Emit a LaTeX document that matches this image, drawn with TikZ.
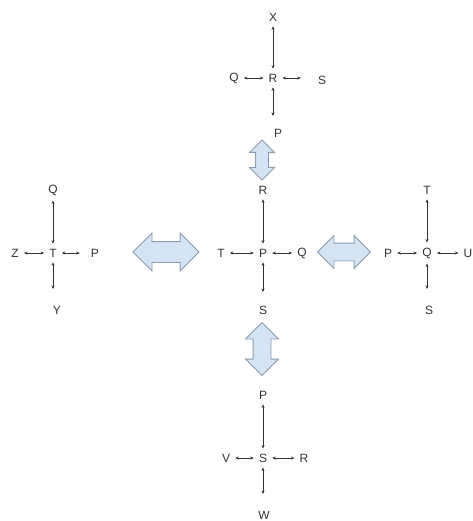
\documentclass[tikz,border=0pt]{standalone}
\usepackage{fontspec}
\setmainfont{Liberation Sans}
\usetikzlibrary{arrows.meta,shapes.arrows}
\definecolor{txt}{HTML}{333333}
\definecolor{bafill}{HTML}{D4E4F4}
\definecolor{badraw}{HTML}{8A9BAD}
\tikzset{
  lbl/.style={font=\fontsize{12}{14}\selectfont, text=txt, inner sep=5pt},
  lnk/.style={draw=txt, line width=0.8pt, {Stealth[length=3.5pt,width=3pt]}-{Stealth[length=3.5pt,width=3pt]}},
  barrow/.style={double arrow, draw=badraw, fill=bafill, line width=0.9pt, inner xsep=0pt}
}
\begin{document}
\begin{tikzpicture}[x=1pt,y=-1pt]
\useasboundingbox (0,0) rectangle (472,521);
% top cluster
\node[lbl] (tX) at (273,17) {X};
\node[lbl] (tR) at (273,78) {R};
\node[lbl] (tQ) at (234,78) {Q};
\node[lbl] (tS) at (322,80) {S};
\node[lbl] (tP) at (278,133) {P};
\coordinate (tD) at (273,116);
\draw[lnk] (tX) -- (tR);
\draw[lnk] (tQ) -- (tR);
\draw[lnk] (tR) -- ([xshift=-12pt]tS.west |- tR);
\draw[lnk] (tR) -- (tD);
% center cluster
\node[lbl] (cR) at (263,190) {R};
\node[lbl] (cP) at (263,253) {P};
\node[lbl] (cT) at (221,253) {T};
\node[lbl] (cQ) at (302,253) {Q};
\node[lbl] (cS) at (263,310) {S};
\coordinate (cD) at (263,292);
\draw[lnk] (cR) -- (cP);
\draw[lnk] (cT) -- (cP);
\draw[lnk] (cP) -- (cQ);
\draw[lnk] (cP) -- (cD);
% left cluster
\node[lbl] (lQ) at (53,190) {Q};
\node[lbl] (lT) at (53,253) {T};
\node[lbl] (lZ) at (15,253) {Z};
\node[lbl] (lP) at (95,253) {P};
\node[lbl] (lY) at (57,310) {Y};
\coordinate (lD) at (53,289);
\draw[lnk] (lQ) -- (lT);
\draw[lnk] (lZ) -- (lT);
\draw[lnk] (lT) -- ([xshift=-6pt]lP.west);
\draw[lnk] (lT) -- (lD);
% right cluster
\node[lbl] (rT) at (427,190) {T};
\node[lbl] (rQ) at (427,253) {Q};
\node[lbl] (rP) at (388,253) {P};
\node[lbl] (rU) at (468,253) {U};
\node[lbl] (rS) at (429,310) {S};
\coordinate (rD) at (427,289);
\draw[lnk] (rT) -- (rQ);
\draw[lnk] (rP) -- (rQ);
\draw[lnk] (rQ) -- (rU);
\draw[lnk] (rQ) -- (rD);
% bottom cluster
\node[lbl] (bP) at (263,395) {P};
\node[lbl] (bS) at (263,458) {S};
\node[lbl] (bV) at (226,458) {V};
\node[lbl] (bR) at (304,458) {R};
\node[lbl] (bW) at (264,515) {W};
\coordinate (bD) at (263,494);
\draw[lnk] (bP) -- (bS);
\draw[lnk] (bV) -- (bS);
\draw[lnk] (bS) -- (bR);
\draw[lnk] (bS) -- (bD);
% block arrows
\node[barrow, minimum height=40pt, inner ysep=6pt, double arrow head extend=6pt, rotate=90] (ba1) at (262,160) {};
\node[barrow, minimum height=66pt, inner ysep=10pt, double arrow head extend=8.5pt] (ba2) at (166,252) {};
\node[barrow, minimum height=53pt, inner ysep=8.5pt, double arrow head extend=7.5pt] (ba3) at (344,252) {};
\node[barrow, minimum height=53pt, inner ysep=8.5pt, double arrow head extend=7.5pt, rotate=90] (ba4) at (262,349) {};
\end{tikzpicture}
\end{document}
